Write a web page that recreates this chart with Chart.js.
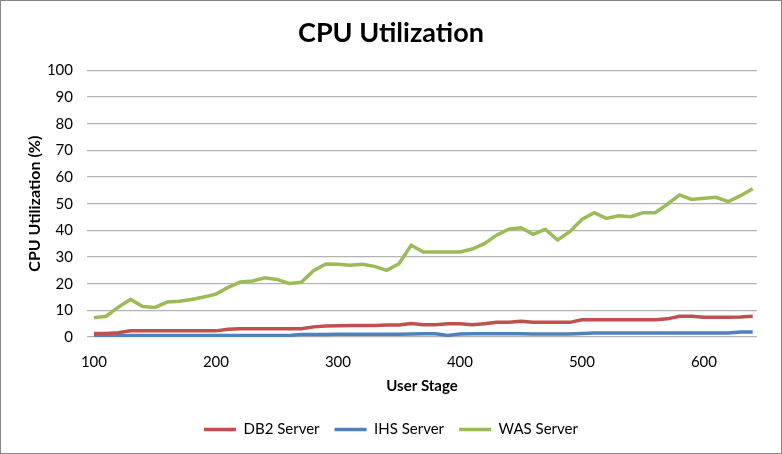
<!DOCTYPE html>
<html>
<head>
<meta charset="utf-8">
<script src="https://cdn.jsdelivr.net/npm/chart.js@4/dist/chart.umd.min.js"></script>
<style>
  html, body { margin: 0; padding: 0; background: #fff; }
  #wrap { width: 782px; height: 454px; box-sizing: border-box; border: 1px solid #868686; position: relative; }
  canvas { display: block; }
</style>
</head>
<body>
<div id="wrap"><canvas id="c" width="780" height="452"></canvas></div>
<script>
const userStages = [100,110,120,130,140,150,160,170,180,190,200,210,220,230,240,250,260,270,280,290,300,310,320,330,340,350,360,370,380,390,400,410,420,430,440,450,460,470,480,490,500,510,520,530,540,550,560,570,580,590,600,610,620,630,640];
const db2Server = [1.3,1.3,1.6,2.3,2.3,2.3,2.3,2.3,2.3,2.3,2.3,2.9,3.1,3.1,3.1,3.1,3.1,3.1,3.8,4.1,4.2,4.3,4.3,4.3,4.5,4.5,5.1,4.6,4.6,5.0,5.0,4.6,5.0,5.5,5.5,5.9,5.5,5.5,5.5,5.5,6.5,6.5,6.5,6.5,6.5,6.5,6.5,6.8,7.8,7.8,7.4,7.4,7.4,7.5,7.8];
const ihsServer = [0.25,0.25,0.5,0.6,0.6,0.6,0.6,0.6,0.6,0.6,0.6,0.6,0.6,0.6,0.6,0.6,0.6,0.9,0.9,0.9,1.0,1.0,1.0,1.0,1.0,1.0,1.1,1.25,1.25,0.6,1.1,1.2,1.2,1.2,1.2,1.2,1.1,1.1,1.1,1.1,1.3,1.5,1.5,1.5,1.5,1.5,1.5,1.5,1.5,1.5,1.5,1.5,1.5,1.9,1.9];
const wasServer = [7.2,7.8,11.2,14.1,11.4,11.1,13.1,13.4,14.1,15.0,16.1,18.6,20.6,21.0,22.2,21.6,20.1,20.5,24.9,27.4,27.3,26.9,27.3,26.5,25.0,27.5,34.4,31.9,31.9,31.9,31.9,33.0,35.0,38.2,40.4,41.0,38.5,40.4,36.4,39.5,44.1,46.6,44.5,45.5,45.1,46.6,46.6,49.8,53.3,51.6,52.0,52.4,50.8,53.0,55.6];
const xTicks = [100,200,300,400,500,600];
const seriesNames = ['DB2 Server','IHS Server','WAS Server'];
const seriesColors = ['#C0504D','#4F81BD','#9BBB59'];

const FONT = 'Lato, "Liberation Sans", sans-serif';
const toPts = arr => arr.map((v, i) => ({ x: userStages[i], y: v }));

new Chart(document.getElementById('c'), {
  type: 'line',
  data: {
    datasets: [db2Server, ihsServer, wasServer].map((d, i) => ({
      label: seriesNames[i],
      data: toPts(d),
      borderColor: seriesColors[i],
      backgroundColor: seriesColors[i],
      borderWidth: 3.5,
      pointRadius: 0,
      tension: 0,
      fill: false
    }))
  },
  options: {
    responsive: false,
    animation: false,
    layout: { padding: { left: 0, right: 0, top: 0, bottom: 6 } },
    plugins: {
      title: {
        display: true,
        text: 'CPU Utilization',
        color: '#000',
        font: { family: FONT, size: 27, weight: 'bold' },
        padding: { top: 16, bottom: 21 }
      },
      legend: {
        position: 'bottom',
        labels: {
          usePointStyle: true,
          pointStyle: 'line',
          pointStyleWidth: 32,
          boxHeight: 15,
          padding: 15,
          color: '#000',
          font: { family: FONT, size: 15 }
        }
      },
      tooltip: { enabled: false }
    },
    scales: {
      x: {
        type: 'linear',
        min: 94.3,
        max: 643.5,
        afterBuildTicks: axis => { axis.ticks = xTicks.map(v => ({ value: v })); },
        afterFit: scale => { scale.height = 70; },
        grid: { display: false, drawTicks: false },
        border: { display: false },
        ticks: { color: '#000', padding: 16, maxRotation: 0, font: { family: FONT, size: 15 } },
        title: {
          display: true,
          text: 'User Stage',
          color: '#000',
          font: { family: FONT, size: 15, weight: 'bold' },
          padding: { top: 6, bottom: 12 }
        }
      },
      y: {
        min: 0,
        max: 100,
        afterFit: scale => { scale.width = 86; },
        ticks: { stepSize: 10, color: '#000', padding: 14, font: { family: FONT, size: 15 } },
        grid: { color: '#b3b3b3', lineWidth: 1.3, drawTicks: false },
        border: { display: false },
        title: {
          display: true,
          text: 'CPU Utilization (%)',
          color: '#000',
          font: { family: FONT, size: 16, weight: 'bold' },
          padding: { top: 24, bottom: 0 }
        }
      },
      yRight: {
        position: 'right',
        display: true,
        min: 0,
        max: 100,
        afterFit: scale => { scale.width = 24; },
        grid: { display: false, drawTicks: false },
        border: { display: false },
        ticks: { display: false }
      }
    }
  }
});
</script>
</body>
</html>
